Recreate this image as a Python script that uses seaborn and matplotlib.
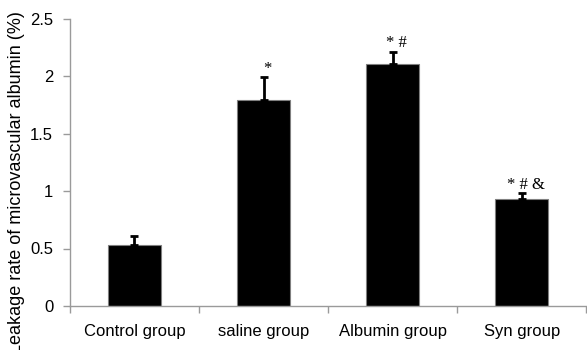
import matplotlib
matplotlib.use("Agg")
import matplotlib.pyplot as plt
import seaborn as sns
import pandas as pd
import numpy as np

categories = ["Control group", "saline group", "Albumin group", "Syn group"]
values = [0.53, 1.79, 2.11, 0.93]
errors = [0.08, 0.20, 0.10, 0.05]
marks = ["", "*", "* #", "* # &"]
yticks = [0, 0.5, 1, 1.5, 2, 2.5]
ytick_labels = ["0", "0.5", "1", "1.5", "2", "2.5"]

sns.set_theme(style="white")
plt.rcParams["font.family"] = ["Liberation Sans", "DejaVu Sans"]

df = pd.DataFrame({"group": categories, "value": values})

fig = plt.figure(figsize=(5.87, 3.5), dpi=100)
ax = fig.add_axes([0.119, 0.126, 0.88, 0.82])

sns.barplot(data=df, x="group", y="value", color="black", errorbar=None,
            width=0.41, edgecolor="#7f7f7f", linewidth=0.8, saturation=1, ax=ax)

xpos = np.arange(len(categories))
ax.errorbar(xpos, values, yerr=[np.zeros(len(errors)), errors], fmt="none",
            ecolor="black", elinewidth=2, capsize=2.9, capthick=2)

for x, v, e, m in zip(xpos, values, errors, marks):
    if m:
        ax.annotate(m, xy=(x, v + e), xytext=(3, 0.5), textcoords="offset points",
                    ha="center", va="bottom", fontsize=12,
                    family=["Liberation Serif", "DejaVu Serif"], color="black")

ax.set_xlim(-0.5, 3.5)
ax.set_ylim(0, 2.5)
ax.set_yticks(yticks)
ax.set_yticklabels(ytick_labels)
ax.set_xticks(xpos)
ax.set_xticklabels(categories)
ax.set_xticks(np.arange(-0.5, 4.0, 1.0), minor=True)
ax.tick_params(axis="x", which="major", length=0, pad=13, labelsize=12, colors="black")
ax.tick_params(axis="x", which="minor", length=5, width=1, color="#9a9a9a", direction="out", bottom=True)
ax.tick_params(axis="y", which="major", length=5, width=1, color="#9a9a9a", direction="out",
               left=True, pad=7, labelsize=12, labelcolor="black")

for s in ["top", "right"]:
    ax.spines[s].set_visible(False)
for s in ["left", "bottom"]:
    ax.spines[s].set_color("#9a9a9a")
    ax.spines[s].set_linewidth(1)

ax.set_xlabel("")
ax.set_ylabel("Leakage rate of microvascular albumin (%)", fontsize=13, color="black")
ax.yaxis.set_label_coords(-0.087, 0.43)

fig.savefig("out.png", dpi=100)
